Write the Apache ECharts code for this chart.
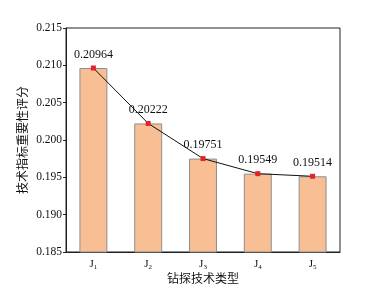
<!DOCTYPE html>
<html><head><meta charset="utf-8">
<script src="https://cdn.jsdelivr.net/npm/echarts@6/dist/echarts.min.js"></script>
<style>html,body{margin:0;padding:0;background:#fff}#c{width:385px;height:291px}</style>
</head><body><div id="c"></div>
<script>
const categories = ['1','2','3','4','5'];
const values = [0.20964, 0.20222, 0.19751, 0.19549, 0.19514];
const yTicks = {min:0.185, max:0.215, interval:0.005};
const FONT = '"Liberation Serif","Noto Sans CJK SC",serif';
const chart = echarts.init(document.getElementById('c'));
chart.setOption({
  animation:false,
  grid:{left:66, right:45, top:28, bottom:38.5, show:true, borderColor:'#222', borderWidth:1, backgroundColor:'transparent'},
  xAxis:{type:'category', data:categories,
    name:'钻探技术类型', nameLocation:'middle', nameGap:22, nameMoveOverlap:false,
    nameTextStyle:{fontFamily:FONT, fontSize:12, color:'#111'},
    axisLine:{lineStyle:{color:'#222', width:1}},
    axisTick:{alignWithLabel:true, inside:true, length:4, interval:0, lineStyle:{color:'#222'}},
    axisLabel:{margin:6, interval:0, formatter: v => '{j|J}{s|' + v + '}',
      rich:{j:{fontFamily:FONT, fontSize:11, color:'#111'}, s:{fontFamily:FONT, fontSize:7, color:'#111', verticalAlign:'bottom', padding:[6,0,0,0]}}}
  },
  yAxis:{type:'value', min:yTicks.min, max:yTicks.max, interval:yTicks.interval,
    name:'技术指标重要性评分', nameLocation:'middle', nameGap:36, nameRotate:90, nameMoveOverlap:false,
    nameTextStyle:{fontFamily:FONT, fontSize:12, color:'#111'},
    splitLine:{show:false},
    axisLine:{show:true, lineStyle:{color:'#222', width:1}},
    axisTick:{show:true, length:3, lineStyle:{color:'#222'}},
    axisLabel:{fontFamily:FONT, fontSize:11.5, color:'#111', margin:4, formatter: v => v.toFixed(3)}
  },
  series:[
    {type:'bar', data:values, barWidth:'51%',
     itemStyle:{color:'#F8BE94', borderColor:'#8f8f8f', borderWidth:1}},
    {type:'line', data:values, symbol:'rect', symbolSize:5,
     itemStyle:{color:'#e8202a'}, lineStyle:{color:'#111', width:1},
     label:{show:true, position:'top', distance:5, fontFamily:FONT, fontSize:12, color:'#111', formatter: p => p.value.toFixed(5)}}
  ]
});
</script></body></html>
